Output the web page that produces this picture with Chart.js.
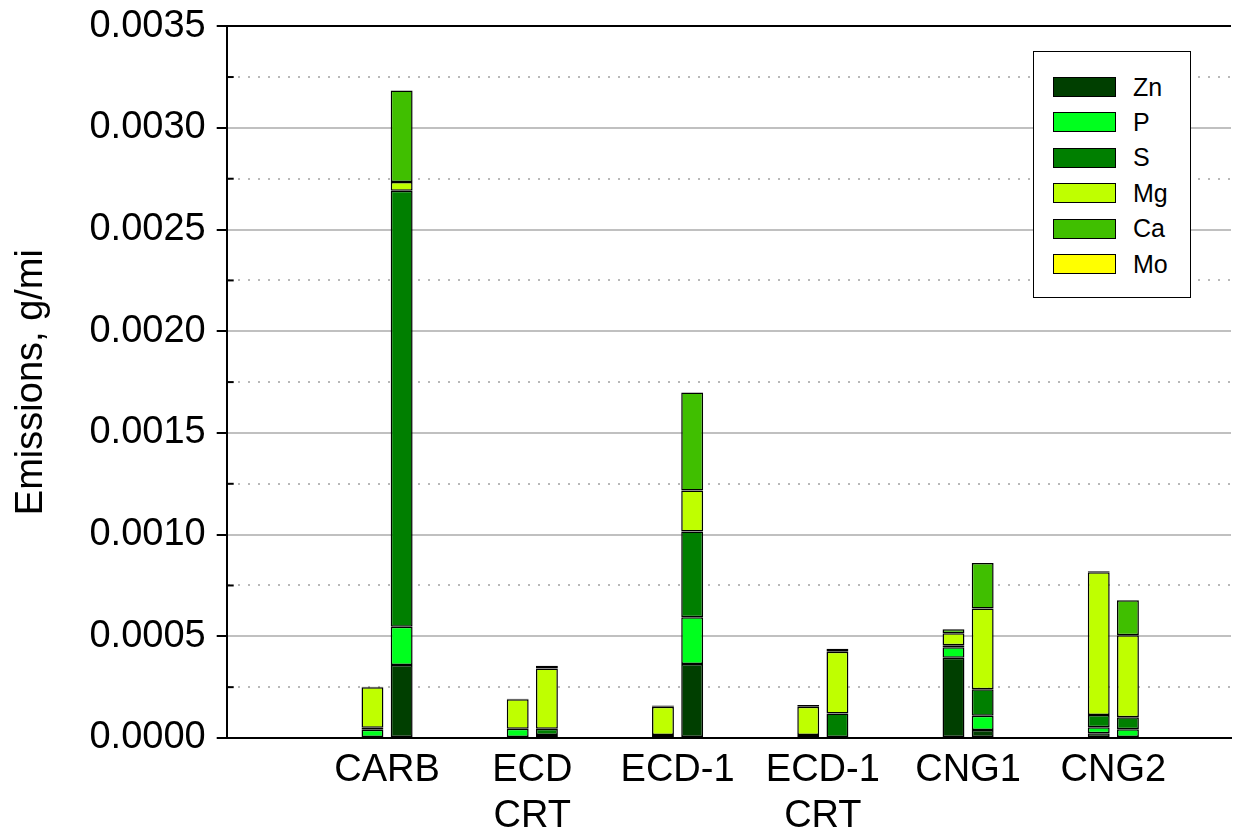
<!DOCTYPE html>
<html>
<head>
<meta charset="utf-8">
<script src="https://cdn.jsdelivr.net/npm/chart.js@4.4.1/dist/chart.umd.min.js"></script>
<style>
  body { margin: 0; background: #fff; }
  #wrap { position: relative; width: 1234px; height: 829px; }
  #legend {
    position: absolute; left: 1033px; top: 51px; width: 156px; height: 245px;
    border: 1.5px solid #000; background: #fff;
    font-family: "Liberation Sans", Arial, sans-serif; font-size: 25px;
  }
  #legend .row { position: absolute; left: 19px; height: 20px; display: flex; align-items: center; }
  #legend .box { width: 61px; height: 18px; border: 1.5px solid #000; margin-right: 17px; }
</style>
</head>
<body>
<div id="wrap">
  <canvas id="emissionsChart"></canvas>
  <div id="legend"></div>
</div>
<script>
const categories = ["CARB", ["ECD", "CRT"], "ECD-1", ["ECD-1", "CRT"], "CNG1", "CNG2"];
const elements = ["Zn", "P", "S", "Mg", "Ca", "Mo"];
const yTicks = [0, 0.0005, 0.001, 0.0015, 0.002, 0.0025, 0.003, 0.0035];

// left bar of each pair
const znA = [0, 0, 0, 0, 0.000395, 0.000023];
const pA  = [0.00004, 0.000045, 0.000015, 0.000015, 0.000051, 0.00003];
const sA  = [0.00001, 0, 0, 0, 0.00001, 0.00006];
const mgA = [0.0002, 0.000145, 0.000139, 0.000139, 0.000059, 0.000702];
const caA = [0.000002, 0.000003, 0.000006, 0.000008, 0.00002, 0.000005];
const moA = [0, 0, 0, 0, 0, 0];

// right bar of each pair
const znB = [0.000359, 0, 0.000364, 0, 0.000039, 0];
const pB  = [0.000188, 0.000015, 0.00023, 0, 0.00007, 0.000043];
const sB  = [0.002144, 0.00003, 0.000421, 0.000121, 0.000131, 0.000059];
const mgB = [0.000043, 0.000297, 0.000202, 0.000303, 0.000397, 0.000403];
const caB = [0.00045, 0.000013, 0.000482, 0.000015, 0.000224, 0.000172];
const moB = [0, 0, 0, 0, 0, 0];

const colors = ["#003f00", "#00ff1e", "#007f00", "#bfff00", "#40bf00", "#ffff00"];
const seriesA = [znA, pA, sA, mgA, caA, moA];
const seriesB = [znB, pB, sB, mgB, caB, moB];

const font = "'Liberation Sans', Arial, sans-serif";
const isMajor = v => Math.abs(v / 0.0005 - Math.round(v / 0.0005)) < 1e-6;
const isEdge = v => Math.abs(v) < 1e-9 || Math.abs(v - 0.0035) < 1e-9;

function makeSet(name, values, color, stack) {
    return {
        label: name,
        stack: stack,
        data: values.map((v, i) => ({ x: i + 1, y: v })),
        backgroundColor: color,
        borderColor: "#000",
        borderWidth: 1.5,
        borderSkipped: false,
        categoryPercentage: 0.402,
        barPercentage: 0.75
    };
}

const datasets = [];
elements.forEach((el, i) => datasets.push(makeSet(el, seriesA[i], colors[i], "a")));
elements.forEach((el, i) => datasets.push(makeSet(el, seriesB[i], colors[i], "b")));

const innerTicks = {
    id: "innerTicks",
    afterDraw(chart) {
        const y = chart.scales.y;
        const ctx = chart.ctx;
        ctx.save();
        ctx.strokeStyle = "#000";
        ctx.lineWidth = 2;
        y.ticks.forEach(t => {
            if (isMajor(t.value)) return;
            const py = y.getPixelForValue(t.value);
            ctx.beginPath();
            ctx.moveTo(chart.chartArea.left, py);
            ctx.lineTo(chart.chartArea.left + 7, py);
            ctx.stroke();
        });
        ctx.restore();
    }
};

new Chart(document.getElementById("emissionsChart"), {
    type: "bar",
    data: { datasets: datasets },
    plugins: [innerTicks],
    options: {
        responsive: true,
        maintainAspectRatio: false,
        animation: false,
        layout: { padding: { top: 26, right: 3, left: 0, bottom: 0 } },
        plugins: { legend: { display: false }, tooltip: { enabled: false } },
        scales: {
            x: {
                type: "linear",
                stacked: true,
                offset: false,
                min: -0.104,
                max: 6.81,
                afterBuildTicks: scale => { scale.ticks = categories.map((c, i) => ({ value: i + 1 })); },
                afterFit: scale => { scale.height = 91; },
                grid: { display: false, offset: false },
                border: { color: "#000", width: 2 },
                ticks: {
                    autoSkip: false,
                    maxRotation: 0,
                    padding: 2,
                    color: "#000",
                    font: { family: font, size: 38, lineHeight: 1.2 },
                    callback: value => categories[Math.round(value) - 1]
                }
            },
            y: {
                stacked: true,
                min: 0,
                max: 0.0035,
                afterBuildTicks: scale => {
                    const t = [];
                    for (let i = 0; i < yTicks.length; i++) {
                        t.push({ value: yTicks[i] });
                        if (i < yTicks.length - 1) t.push({ value: (yTicks[i] + yTicks[i + 1]) / 2 });
                    }
                    scale.ticks = t;
                },
                afterFit: scale => { scale.width = 226.7; },
                title: {
                    display: true,
                    text: "Emissions, g/mi",
                    color: "#000",
                    font: { family: font, size: 38 },
                    padding: { top: 9, bottom: 4 }
                },
                border: {
                    color: "#000",
                    width: 2,
                    dash: ctx => (ctx.tick && !isMajor(ctx.tick.value)) ? [2, 8] : []
                },
                grid: {
                    lineWidth: 2,
                    color: ctx => isEdge(ctx.tick.value) ? "#000" : (isMajor(ctx.tick.value) ? "#c0c0c0" : "#b8b8b8"),
                    tickColor: ctx => isMajor(ctx.tick.value) ? "#000" : "rgba(0,0,0,0)",
                    tickLength: 10,
                    tickWidth: 2
                },
                ticks: {
                    padding: 11,
                    color: "#000",
                    font: { family: font, size: 38, lineHeight: 0.8 },
                    callback: value => isMajor(value) ? value.toFixed(4) : ""
                }
            }
        }
    }
});

const legend = document.getElementById("legend");
elements.forEach((el, i) => {
    const row = document.createElement("div");
    row.className = "row";
    row.style.top = (25 + i * 35.4) + "px";
    row.innerHTML = '<span class="box" style="background:' + colors[i] + '"></span><span>' + el + '</span>';
    legend.appendChild(row);
});
</script>
</body>
</html>
